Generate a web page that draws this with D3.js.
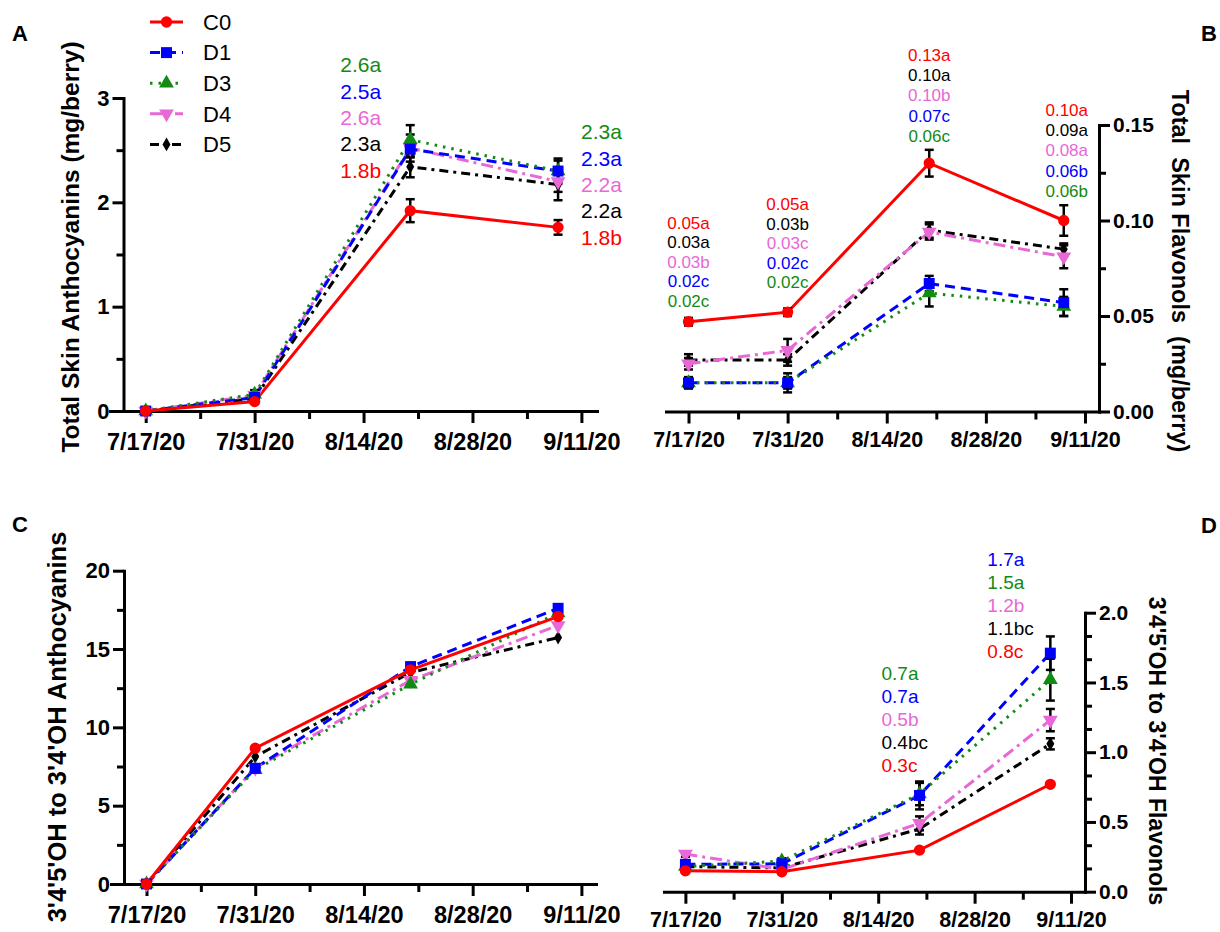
<!DOCTYPE html>
<html>
<head>
<meta charset="utf-8">
<script src="https://cdn.jsdelivr.net/npm/d3@7"></script>
<style>
body { margin: 0; background: #fff; }
svg { display: block; }
text { font-family: "Liberation Sans", Arial, sans-serif; }
</style>
</head>
<body>
<script>
// sampling dates and axis ticks
var sampleDates = ["2020-07-17", "2020-07-31", "2020-08-20", "2020-09-08"];
var majorTickDates = ["2020-07-17", "2020-07-31", "2020-08-14", "2020-08-28", "2020-09-11"];
var seriesNames = ["C0", "D1", "D3", "D4", "D5"];

// A: total skin anthocyanins (mg/berry), mean and error
var anthoMean = {
  C0: [0, 0.09, 1.92, 1.76],
  D1: [0, 0.13, 2.51, 2.30],
  D3: [0, 0.16, 2.60, 2.30],
  D4: [0, 0.15, 2.52, 2.20],
  D5: [0, 0.12, 2.34, 2.17]
};
var anthoErr = {
  C0: [0, 0.02, 0.11, 0.07],
  D1: [0, 0.03, 0.08, 0.10],
  D3: [0, 0.04, 0.14, 0.12],
  D4: [0, 0.03, 0.13, 0.10],
  D5: [0, 0.05, 0.10, 0.15]
};

// B: total skin flavonols (mg/berry)
var flavMean = {
  C0: [0.047, 0.052, 0.130, 0.100],
  D1: [0.015, 0.015, 0.067, 0.057],
  D3: [0.015, 0.015, 0.062, 0.055],
  D4: [0.025, 0.032, 0.094, 0.081],
  D5: [0.027, 0.027, 0.095, 0.085]
};
var flavErr = {
  C0: [0.002, 0.002, 0.007, 0.008],
  D1: [0.003, 0.005, 0.004, 0.007],
  D3: [0.002, 0.003, 0.007, 0.005],
  D4: [0.003, 0.006, 0.004, 0.006],
  D5: [0.003, 0.003, 0.004, 0.003]
};

// C: 3'4'5'OH to 3'4'OH anthocyanins
var anthoRatio = {
  C0: [0, 8.67, 13.67, 17.07],
  D1: [0, 7.39, 13.88, 17.60],
  D3: [0, 7.30, 12.75, 17.30],
  D4: [0, 7.40, 13.00, 16.50],
  D5: [0, 8.13, 13.50, 15.73]
};
var anthoRatioErr = {
  C0: [0, 0, 0, 0], D1: [0, 0, 0, 0], D3: [0, 0, 0, 0], D4: [0, 0, 0, 0], D5: [0, 0, 0, 0]
};

// D: 3'4'5'OH to 3'4'OH flavonols
var flavRatio = {
  C0: [0.15, 0.143, 0.298, 0.77],
  D1: [0.196, 0.20, 0.69, 1.71],
  D3: [0.18, 0.22, 0.70, 1.52],
  D4: [0.27, 0.16, 0.49, 1.23],
  D5: [0.18, 0.17, 0.45, 1.06]
};
var flavRatioErr = {
  C0: [0, 0, 0, 0],
  D1: [0.02, 0.02, 0.10, 0.12],
  D3: [0.02, 0.02, 0.08, 0.15],
  D4: [0.02, 0.02, 0.05, 0.08],
  D5: [0.01, 0.01, 0.04, 0.04]
};

// significance labels (series, text) per group
var labelsA1 = [["D3", "2.6a"], ["D1", "2.5a"], ["D4", "2.6a"], ["D5", "2.3a"], ["C0", "1.8b"]];
var labelsA2 = [["D3", "2.3a"], ["D1", "2.3a"], ["D4", "2.2a"], ["D5", "2.2a"], ["C0", "1.8b"]];
var labelsB1 = [["C0", "0.05a"], ["D5", "0.03a"], ["D4", "0.03b"], ["D1", "0.02c"], ["D3", "0.02c"]];
var labelsB2 = [["C0", "0.05a"], ["D5", "0.03b"], ["D4", "0.03c"], ["D1", "0.02c"], ["D3", "0.02c"]];
var labelsB3 = [["C0", "0.13a"], ["D5", "0.10a"], ["D4", "0.10b"], ["D1", "0.07c"], ["D3", "0.06c"]];
var labelsB4 = [["C0", "0.10a"], ["D5", "0.09a"], ["D4", "0.08a"], ["D1", "0.06b"], ["D3", "0.06b"]];
var labelsD1 = [["D3", "0.7a"], ["D1", "0.7a"], ["D4", "0.5b"], ["D5", "0.4bc"], ["C0", "0.3c"]];
var labelsD2 = [["D1", "1.7a"], ["D3", "1.5a"], ["D4", "1.2b"], ["D5", "1.1bc"], ["C0", "0.8c"]];

var colors = { C0: "#ff0000", D1: "#0000ff", D3: "#138a13", D4: "#e868d6", D5: "#000000" };
var dashes = { C0: null, D1: "10,6", D3: "2.5,6", D4: "12,5,3,5", D5: "9,5,3,5" };
var symbols = {
  C0: { type: d3.symbolCircle, size: 100, rot: 0 },
  D1: { type: d3.symbolSquare, size: 120, rot: 0 },
  D3: { type: d3.symbolTriangle, size: 95, rot: 0 },
  D4: { type: d3.symbolTriangle, size: 95, rot: 180 },
  D5: { type: d3.symbolDiamond, size: 55, rot: 0 }
};

var parse = d3.timeParse("%Y-%m-%d");
var dates = sampleDates.map(parse);
var majorTicks = majorTickDates.map(parse);
var minorTicks = d3.timeDay.range(parse("2020-07-24"), parse("2020-09-12"), 14);

var svg = d3.select("body").append("svg").attr("width", 1220).attr("height", 932);

function makeX(pxFirst, pxLast, left, right) {
  var s = d3.scaleTime().domain([majorTicks[0], majorTicks[4]]).range([pxFirst, pxLast]);
  return d3.scaleTime().domain([s.invert(left), s.invert(right)]).range([left, right]);
}

function styleAxis(g, fs) {
  g.attr("font-family", null).attr("font-size", null);
  g.select(".domain").attr("stroke-width", 3).attr("stroke-linecap", "square");
  g.selectAll(".tick line").attr("stroke-width", 3);
  g.selectAll(".tick text").attr("font-size", fs).attr("font-weight", "bold").attr("fill", "#000");
}

function drawPanel(p) {
  var g = svg.append("g");
  var x = makeX(p.px0, p.px1, p.left, p.right);
  var y = d3.scaleLinear().domain(p.yDomain).range([p.yBottom, p.yTop]);

  // x axis, major and minor
  var xa = g.append("g").attr("transform", "translate(0," + p.yBottom + ")")
    .call(d3.axisBottom(x).tickValues(majorTicks).tickFormat(d3.timeFormat("%-m/%-d/%y"))
      .tickSize(12).tickSizeOuter(0).tickPadding(p.xPad));
  styleAxis(xa, p.xFont);
  var xm = g.append("g").attr("transform", "translate(0," + p.yBottom + ")")
    .call(d3.axisBottom(x).tickValues(minorTicks).tickFormat("").tickSize(8).tickSizeOuter(0));
  xm.select(".domain").remove();
  xm.selectAll(".tick line").attr("stroke-width", 3);

  // y axis, major and minor
  var axisFn = p.side === "left" ? d3.axisLeft : d3.axisRight;
  var ya = g.append("g").attr("transform", "translate(" + p.yAxisX + ",0)")
    .call(axisFn(y).tickValues(p.yTicks).tickFormat(d3.format(p.yFmt))
      .tickSize(11).tickSizeOuter(0).tickPadding(3));
  styleAxis(ya, p.yFont);
  var ym = g.append("g").attr("transform", "translate(" + p.yAxisX + ",0)")
    .call(axisFn(y).tickValues(p.yMinor).tickFormat("").tickSize(7).tickSizeOuter(0));
  ym.select(".domain").remove();
  ym.selectAll(".tick line").attr("stroke-width", 3);

  // axis title
  g.append("text")
    .attr("transform", "translate(" + p.titleX + "," + p.titleY + ") rotate(" + (p.side === "left" ? -90 : 90) + ")")
    .attr("text-anchor", "middle").attr("dy", "0.35em")
    .attr("font-size", p.titleFont).attr("font-weight", "bold")
    .style("white-space", "pre")
    .text(p.title);

  // lines
  var line = d3.line().x(function (d, i) { return x(dates[i]); }).y(function (d) { return y(d); });
  ["D5", "D4", "D1", "D3", "C0"].forEach(function (s) {
    g.append("path").datum(p.mean[s])
      .attr("d", line).attr("fill", "none")
      .attr("stroke", colors[s]).attr("stroke-width", 3)
      .attr("stroke-dasharray", dashes[s]);
  });

  // error bars
  seriesNames.forEach(function (s) {
    p.mean[s].forEach(function (v, i) {
      var e = p.err[s][i];
      if (!e) return;
      var cx = x(dates[i]);
      var eg = g.append("g").attr("stroke", "#000").attr("stroke-width", 2.5);
      eg.append("line").attr("x1", cx).attr("x2", cx).attr("y1", y(v - e)).attr("y2", y(v + e));
      eg.append("line").attr("x1", cx - 4.5).attr("x2", cx + 4.5).attr("y1", y(v - e)).attr("y2", y(v - e));
      eg.append("line").attr("x1", cx - 4.5).attr("x2", cx + 4.5).attr("y1", y(v + e)).attr("y2", y(v + e));
    });
  });

  // markers
  ["D5", "D4", "D3", "D1", "C0"].forEach(function (s) {
    var sym = d3.symbol().type(symbols[s].type).size(symbols[s].size);
    g.selectAll(null).data(p.mean[s]).enter().append("path")
      .attr("d", sym)
      .attr("transform", function (d, i) {
        return "translate(" + x(dates[i]) + "," + y(d) + ") rotate(" + symbols[s].rot + ")";
      })
      .attr("fill", colors[s]);
  });

  // significance letters
  p.labels.forEach(function (grp) {
    var gx = x(dates[grp.at]) + grp.dx;
    grp.items.forEach(function (it, k) {
      g.append("text")
        .attr("x", gx).attr("y", grp.y0 + k * grp.step)
        .attr("dy", "0.35em").attr("text-anchor", grp.anchor)
        .attr("font-size", p.labelFont).attr("fill", colors[it[0]])
        .text(it[1]);
    });
  });

  // panel letter
  g.append("text").attr("x", p.letterX).attr("y", p.letterY)
    .attr("text-anchor", "middle").attr("font-size", 22).attr("font-weight", "bold")
    .text(p.letter);
}

drawPanel({
  letter: "A", letterX: 20, letterY: 41,
  px0: 145.7, px1: 581.4, left: 110, right: 597,
  yBottom: 411, yTop: 98, yDomain: [0, 3], yAxisX: 123.5, side: "left",
  yTicks: [0, 1, 2, 3], yMinor: [0.5, 1.5, 2.5], yFmt: "d",
  xFont: 23.5, yFont: 22, xPad: 10,
  title: "Total Skin Anthocyanins (mg/berry)", titleX: 70, titleY: 247, titleFont: 24.5,
  mean: anthoMean, err: anthoErr, labelFont: 21,
  labels: [
    { at: 2, dx: -29, anchor: "end", y0: 65, step: 26.3, items: labelsA1 },
    { at: 3, dx: 23, anchor: "start", y0: 132, step: 26.3, items: labelsA2 }
  ]
});

drawPanel({
  letter: "B", letterX: 1209, letterY: 41,
  px0: 688.5, px1: 1085, left: 666, right: 1099,
  yBottom: 411.5, yTop: 125, yDomain: [0, 0.15], yAxisX: 1099, side: "right",
  yTicks: [0, 0.05, 0.10, 0.15], yMinor: [0.025, 0.075, 0.125], yFmt: ".2f",
  xFont: 21.5, yFont: 21, xPad: 8,
  title: "Total  Skin Flavonols  (mg/berry)", titleX: 1180, titleY: 271, titleFont: 23.5,
  mean: flavMean, err: flavErr, labelFont: 17,
  labels: [
    { at: 0, dx: 0, anchor: "middle", y0: 223, step: 19.5, items: labelsB1 },
    { at: 1, dx: 0, anchor: "middle", y0: 204, step: 19.6, items: labelsB2 },
    { at: 2, dx: 0, anchor: "middle", y0: 55, step: 20.2, items: labelsB3 },
    { at: 3, dx: 3, anchor: "middle", y0: 110, step: 20.2, items: labelsB4 }
  ]
});

drawPanel({
  letter: "C", letterX: 20, letterY: 532,
  px0: 146.5, px1: 581.4, left: 111, right: 596,
  yBottom: 884, yTop: 570.7, yDomain: [0, 20], yAxisX: 124, side: "left",
  yTicks: [0, 5, 10, 15, 20], yMinor: [2.5, 7.5, 12.5, 17.5], yFmt: "d",
  xFont: 23.5, yFont: 22, xPad: 10,
  title: "3'4'5'OH to 3'4'OH Anthocyanins", titleX: 57, titleY: 727, titleFont: 25.5,
  mean: anthoRatio, err: anthoRatioErr, labelFont: 20,
  labels: []
});

var dMinor = d3.range(1, 12).map(function (k) { return k / 6; })
  .filter(function (v) { return Math.abs(v * 2 - Math.round(v * 2)) > 1e-6; });

drawPanel({
  letter: "D", letterX: 1209, letterY: 533,
  px0: 685.4, px1: 1071, left: 664, right: 1085,
  yBottom: 891.7, yTop: 612.7, yDomain: [0, 2], yAxisX: 1085, side: "right",
  yTicks: [0, 0.5, 1.0, 1.5, 2.0], yMinor: dMinor, yFmt: ".1f",
  xFont: 21.5, yFont: 21, xPad: 8,
  title: "3'4'5'OH to 3'4'OH Flavonols", titleX: 1157, titleY: 751, titleFont: 23,
  mean: flavRatio, err: flavRatioErr, labelFont: 19,
  labels: [
    { at: 2, dx: -38, anchor: "start", y0: 673, step: 23, items: labelsD1 },
    { at: 3, dx: -63, anchor: "start", y0: 559, step: 23.1, items: labelsD2 }
  ]
});

// legend
var legend = svg.append("g");
seriesNames.forEach(function (s, i) {
  var ly = 22 + i * 30.6;
  legend.append("line").attr("x1", 150).attr("x2", 183).attr("y1", ly).attr("y2", ly)
    .attr("stroke", colors[s]).attr("stroke-width", 3).attr("stroke-dasharray", dashes[s]);
  legend.append("path")
    .attr("d", d3.symbol().type(symbols[s].type).size(symbols[s].size))
    .attr("transform", "translate(166.5," + ly + ") rotate(" + symbols[s].rot + ")")
    .attr("fill", colors[s]);
  legend.append("text").attr("x", 203).attr("y", ly).attr("dy", "0.35em")
    .attr("font-size", 22).text(s);
});
</script>
</body>
</html>
